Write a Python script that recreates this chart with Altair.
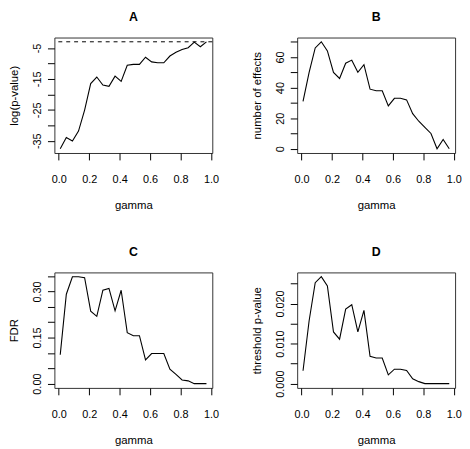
import altair as alt
import pandas as pd

FONT = "Liberation Sans"

gamma = [0.01, 0.05, 0.09, 0.13, 0.17, 0.21, 0.25, 0.29, 0.33, 0.37, 0.41, 0.45, 0.49,
         0.53, 0.57, 0.61, 0.65, 0.69, 0.73, 0.77, 0.81, 0.85, 0.89, 0.93, 0.97]
log_p = [-37.6, -34.0, -35.1, -31.9, -25.1, -16.5, -14.4, -17.0, -17.4, -14.1, -15.8, -10.6, -10.3,
         -10.3, -8.0, -9.5, -9.8, -9.8, -7.6, -6.4, -5.5, -4.9, -3.1, -4.6, -3.0]
n_effects = [31, 50, 66, 70, 64, 50, 46, 56, 58, 50, 55, 39, 38,
             38, 28, 33, 33, 32, 23, 18, 14, 10, 0, 6, 0]
fdr = [0.094, 0.291, 0.348, 0.348, 0.345, 0.236, 0.219, 0.304, 0.310, 0.237, 0.304, 0.166, 0.156,
       0.156, 0.077, 0.098, 0.098, 0.098, 0.047, 0.030, 0.012, 0.009, 0.0, 0.0, 0.0]
thresh_p = [0.0032, 0.0157, 0.0252, 0.0267, 0.0244, 0.0129, 0.0111, 0.0186, 0.0197, 0.0129, 0.0183,
            0.0068, 0.0064, 0.0064, 0.0022, 0.0036, 0.0036, 0.0033, 0.0012, 0.0005, 0.0, 0.0, 0.0, 0.0, 0.0]
cutoff = [-2.9957]  # log(0.05)

panel_titles = ["A", "B", "C", "D"]
y_titles = ["log(p-value)", "number of effects", "FDR", "threshold p-value"]
x_title = "gamma"

x_ticks = [0.0, 0.2, 0.4, 0.6, 0.8, 1.0]
ticks_A = [-35, -30, -25, -20, -15, -10, -5]
ticks_B = [0, 10, 20, 30, 40, 50, 60, 70]
ticks_C = [0.0, 0.05, 0.10, 0.15, 0.20, 0.25, 0.30, 0.35]
ticks_D = [0.0, 0.005, 0.010, 0.015, 0.020, 0.025]

W, H = 160, 117


def rng(vals):
    lo, hi = min(vals), max(vals)
    r = hi - lo
    return [lo - 0.04 * r, hi + 0.04 * r]


def panel(title, ytitle, values, yticks, label_expr, hline=None):
    df = pd.DataFrame({"gamma": gamma, "v": values})
    xs = alt.Scale(domain=rng(gamma), nice=False, zero=False)
    ys = alt.Scale(domain=rng(values), nice=False, zero=False)
    x = alt.X("gamma:Q", scale=xs,
              axis=alt.Axis(values=x_ticks, format=".1f", title=x_title, tickSize=7,
                            labelPadding=14, domain=False, grid=False,
                            titleBaseline="alphabetic", titleY=56.5, titleX=W / 2,
                            labelFlush=False, labelOverlap=False))
    y = alt.Y("v:Q", scale=ys,
              axis=alt.Axis(values=yticks, labelExpr=label_expr, title=ytitle, tickSize=7,
                            labelAngle=270, labelAlign="center", labelBaseline="alphabetic",
                            labelPadding=7, domain=False, grid=False, titleAngle=270,
                            titleBaseline="alphabetic", titleX=-37, titleY=H / 2,
                            labelFlush=False, labelOverlap=False))
    layers = [alt.Chart(df).mark_line(color="black", strokeWidth=1.1).encode(x=x, y=y)]
    if hline is not None:
        hd = pd.DataFrame({"v": hline})
        layers.append(alt.Chart(hd).mark_rule(color="black", strokeWidth=1, strokeDash=[4, 4])
                      .encode(y=y))
    td = pd.DataFrame({"t": [title]})
    layers.append(alt.Chart(td).mark_text(fontSize=12.5, fontWeight="bold", font=FONT,
                                          baseline="alphabetic", align="center", color="black")
                  .encode(text="t:N", x=alt.value(W / 2), y=alt.value(-16.5)))
    return alt.layer(*layers).properties(width=W, height=H)


pA = panel(panel_titles[0], y_titles[0], log_p, ticks_A,
           "abs(datum.value) % 10 == 5 ? toString(datum.value) : ''", hline=cutoff)
pB = panel(panel_titles[1], y_titles[1], n_effects, ticks_B,
           "datum.value % 20 == 0 ? toString(datum.value) : ''")
pC = panel(panel_titles[2], y_titles[2], fdr, ticks_C,
           "round(datum.value * 100) % 15 == 0 ? format(datum.value, '.2f') : ''")
pD = panel(panel_titles[3], y_titles[3], thresh_p, ticks_D,
           "round(datum.value * 1000) % 10 == 0 ? format(datum.value, '.3f') : ''")

chart = alt.concat(pA, pB, pC, pD, columns=2, spacing={"row": 121, "column": 86},
                   bounds="flush").properties(padding=0, background="white").configure_axis(
    labelFont=FONT, titleFont=FONT, labelFontSize=11, titleFontSize=11.5,
    labelColor="black", titleColor="black", tickColor="black", titleFontWeight="normal"
).configure_view(stroke="#333", strokeWidth=1)

chart.save("out.html", embed_options={"renderer": "svg", "actions": False})
